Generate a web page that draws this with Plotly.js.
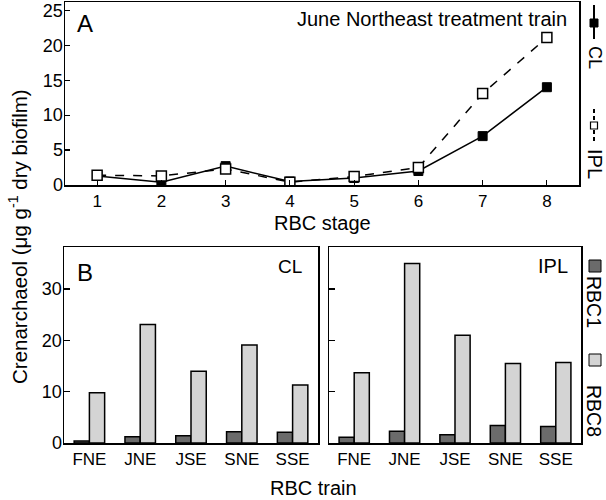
<!DOCTYPE html>
<html>
<head>
<meta charset="utf-8">
<script src="https://cdn.plot.ly/plotly-3.0.1.min.js"></script>
<style>html,body{margin:0;padding:0;background:#fff;}#chart{width:606px;height:500px;}</style>
</head>
<body>
<div id="chart"></div>
<script>
// ---- Data ----
const stages = [1, 2, 3, 4, 5, 6, 7, 8];
const clStage = [1.3, 0.4, 2.7, 0.5, 1.0, 2.0, 7.0, 14.0];
const iplStage = [1.4, 1.3, 2.3, 0.4, 1.2, 2.5, 13.1, 21.1];

const trains = ["FNE", "JNE", "JSE", "SNE", "SSE"];
const clRBC1 = [0.4, 1.2, 1.4, 2.2, 2.1];
const clRBC8 = [9.8, 23.1, 14.0, 19.1, 11.3];
const iplRBC1 = [1.1, 2.3, 1.6, 3.4, 3.2];
const iplRBC8 = [13.7, 35.0, 21.0, 15.5, 15.7];

const stageTicks = ["1", "2", "3", "4", "5", "6", "7", "8"];

// ---- Styles ----
const FONT = "Liberation Sans, Arial, sans-serif";
const dark = "#6b6b6b", light = "#d4d4d4";
const W = 606, H = 500;
const px = v => v / W, py = v => 1 - v / H;

const traces = [
  {x: stages, y: clStage, xaxis: "x", yaxis: "y", mode: "lines+markers", name: "CL",
   line: {color: "#000", width: 1.5, dash: "solid"},
   marker: {symbol: "square", size: 9, color: "#000", line: {color: "#000", width: 1}}},
  {x: stages, y: iplStage, xaxis: "x", yaxis: "y", mode: "lines+markers", name: "IPL",
   line: {color: "#000", width: 1.5, dash: "dash"},
   marker: {symbol: "square", size: 10, color: "#fff", line: {color: "#000", width: 1.5}}},
  {x: trains, y: clRBC1, xaxis: "x2", yaxis: "y2", type: "bar", name: "RBC1",
   marker: {color: dark, line: {color: "#000", width: 1.5}}},
  {x: trains, y: clRBC8, xaxis: "x2", yaxis: "y2", type: "bar", name: "RBC8",
   marker: {color: light, line: {color: "#000", width: 1.5}}},
  {x: trains, y: iplRBC1, xaxis: "x3", yaxis: "y3", type: "bar", name: "RBC1",
   marker: {color: dark, line: {color: "#000", width: 1.5}}},
  {x: trains, y: iplRBC8, xaxis: "x3", yaxis: "y3", type: "bar", name: "RBC8",
   marker: {color: light, line: {color: "#000", width: 1.5}}}
];

const axBase = {showline: true, mirror: true, linecolor: "#000", linewidth: 1.5,
  showgrid: false, zeroline: false, ticks: "inside", ticklen: 5, tickwidth: 1.2, tickcolor: "#000",
  tickfont: {family: FONT, size: 18, color: "#000"}, automargin: false, fixedrange: true};

const layout = {
  width: W, height: H, margin: {l: 0, r: 0, t: 0, b: 0},
  paper_bgcolor: "#fff", plot_bgcolor: "#fff", showlegend: false,
  barmode: "group", bargap: 0.4, bargroupgap: 0,
  font: {family: FONT, color: "#000"},
  xaxis: Object.assign({}, axBase, {domain: [px(65), px(579)], range: [0.5, 8.5], anchor: "y",
    tickmode: "array", tickvals: stages, ticktext: stageTicks, tickfont: {family: FONT, size: 17, color: "#000"}}),
  yaxis: Object.assign({}, axBase, {domain: [py(185), py(2)], range: [0, 26.2], anchor: "x",
    tickvals: [0, 5, 10, 15, 20, 25], ticklabelstandoff: -3}),
  xaxis2: Object.assign({}, axBase, {domain: [px(64), px(318)], range: [-0.5, 4.5], anchor: "y2", ticks: "",
    tickfont: {family: FONT, size: 17, color: "#000"}}),
  yaxis2: Object.assign({}, axBase, {domain: [py(443), py(247)], range: [0, 38.2], anchor: "x2",
    tickvals: [0, 10, 20, 30], ticklen: 6, ticklabelstandoff: -3}),
  xaxis3: Object.assign({}, axBase, {domain: [px(329), px(581)], range: [-0.5, 4.5], anchor: "y3", ticks: "",
    tickfont: {family: FONT, size: 17, color: "#000"}}),
  yaxis3: Object.assign({}, axBase, {domain: [py(443), py(247)], range: [0, 38.2], anchor: "x3",
    tickvals: [0, 10, 20, 30], ticklen: 6, showticklabels: false}),
  annotations: [
    {text: "A", xref: "paper", yref: "paper", x: px(75), y: py(23), xanchor: "left", yanchor: "middle",
     showarrow: false, font: {size: 24, family: FONT}},
    {text: "June Northeast treatment train", xref: "paper", yref: "paper", x: px(569), y: py(19),
     xanchor: "right", yanchor: "middle", showarrow: false, font: {size: 20, family: FONT}},
    {text: "RBC stage", xref: "paper", yref: "paper", x: px(322), y: py(223), xanchor: "center", yanchor: "middle",
     showarrow: false, font: {size: 20, family: FONT}},
    {text: "B", xref: "paper", yref: "paper", x: px(75), y: py(272), xanchor: "left", yanchor: "middle",
     showarrow: false, font: {size: 24, family: FONT}},
    {text: "CL", xref: "paper", yref: "paper", x: px(304), y: py(266), xanchor: "right", yanchor: "middle",
     showarrow: false, font: {size: 19, family: FONT}},
    {text: "IPL", xref: "paper", yref: "paper", x: px(570), y: py(266), xanchor: "right", yanchor: "middle",
     showarrow: false, font: {size: 20, family: FONT}},
    {text: "RBC train", xref: "paper", yref: "paper", x: px(313), y: py(488), xanchor: "center", yanchor: "middle",
     showarrow: false, font: {size: 20, family: FONT}},
    {text: "Crenarchaeol (μg g<sup>-1</sup> dry biofilm)", xref: "paper", yref: "paper", x: px(18), y: py(237),
     xanchor: "center", yanchor: "middle", textangle: -90, showarrow: false, font: {size: 20.5, family: FONT}},
    // legend A texts
    {text: "CL", xref: "paper", yref: "paper", x: px(595), y: py(57), xanchor: "center", yanchor: "middle",
     textangle: 90, showarrow: false, font: {size: 18, family: FONT}},
    {text: "IPL", xref: "paper", yref: "paper", x: px(595), y: py(164), xanchor: "center", yanchor: "middle",
     textangle: 90, showarrow: false, font: {size: 20, family: FONT}},
    // legend B texts
    {text: "RBC1", xref: "paper", yref: "paper", x: px(594), y: py(302), xanchor: "center", yanchor: "middle",
     textangle: 90, showarrow: false, font: {size: 19.5, family: FONT}},
    {text: "RBC8", xref: "paper", yref: "paper", x: px(594), y: py(411), xanchor: "center", yanchor: "middle",
     textangle: 90, showarrow: false, font: {size: 19.5, family: FONT}}
  ],
  shapes: [
    // legend A: CL solid line with filled square
    {type: "line", xref: "paper", yref: "paper", x0: px(594), x1: px(594), y0: py(5), y1: py(39),
     line: {color: "#000", width: 2}},
    {type: "rect", xref: "paper", yref: "paper", x0: px(590), x1: px(598), y0: py(19), y1: py(27),
     fillcolor: "#000", line: {color: "#000", width: 1}},
    // legend A: IPL dashed line with open square
    {type: "line", xref: "paper", yref: "paper", x0: px(594), x1: px(594), y0: py(109), y1: py(142),
     line: {color: "#000", width: 2, dash: "4px,3px"}},
    {type: "rect", xref: "paper", yref: "paper", x0: px(590.5), x1: px(597.5), y0: py(122), y1: py(129),
     fillcolor: "#fff", line: {color: "#000", width: 1.2}},
    // legend B squares
    {type: "rect", xref: "paper", yref: "paper", x0: px(589), x1: px(601), y0: py(260), y1: py(272),
     fillcolor: dark, line: {color: "#000", width: 1}},
    {type: "rect", xref: "paper", yref: "paper", x0: px(589), x1: px(601), y0: py(354), y1: py(366),
     fillcolor: light, line: {color: "#000", width: 1}}
  ]
};

Plotly.newPlot("chart", traces, layout, {displayModeBar: false, staticPlot: true});
</script>
</body>
</html>
